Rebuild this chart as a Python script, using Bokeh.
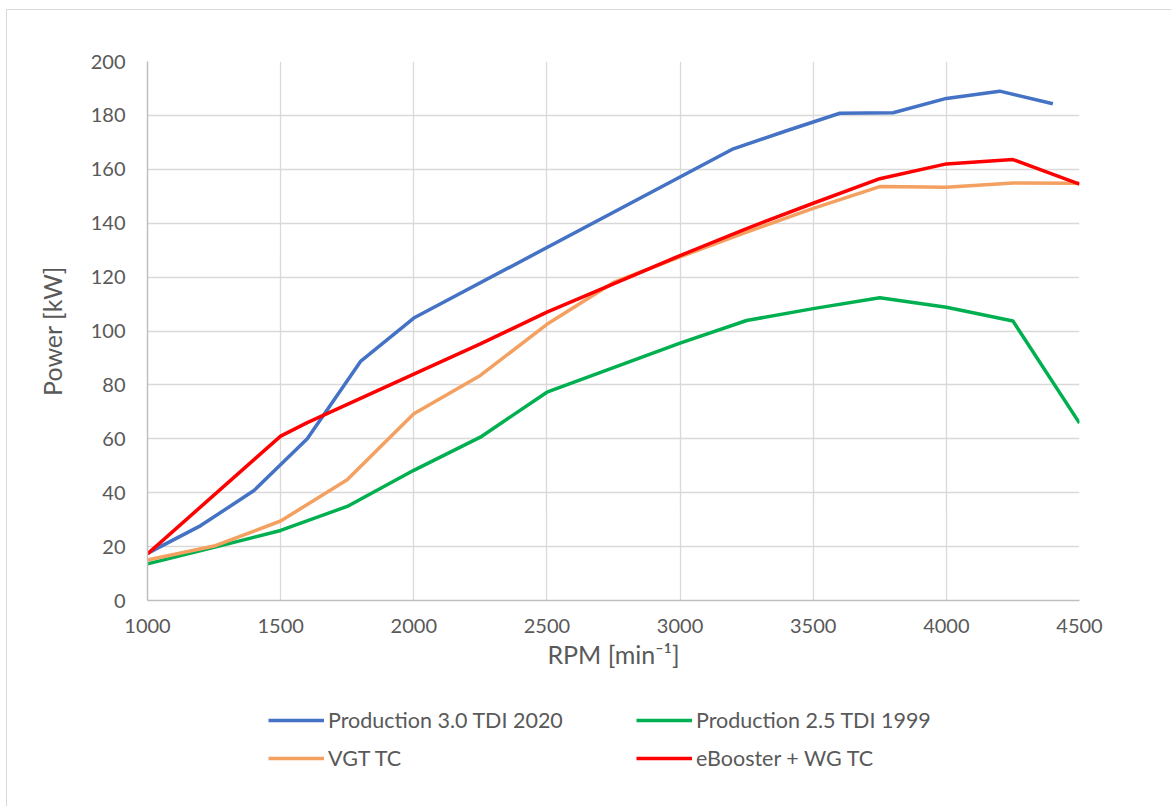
from bokeh.plotting import figure
from bokeh.models import Legend, LegendItem, FixedTicker, Range1d
from bokeh.layouts import column
from bokeh.embed import file_html
from bokeh.resources import INLINE

# Data
rpm_blue = [1000, 1200, 1400, 1600, 1800, 2000, 3200, 3400, 3600, 3800, 4000, 4200, 4400]
kw_blue = [17.5, 27.8, 40.8, 60.0, 88.7, 104.8, 167.6, 174.3, 180.8, 181.0, 186.3, 189.0, 184.3]

rpm_std = [1000, 1250, 1500, 1750, 2000, 2250, 2500, 2750, 3000, 3250, 3500, 3750, 4000, 4250, 4500]
kw_green = [13.6, 19.7, 26.0, 34.9, 48.3, 60.6, 77.3, 86.4, 95.5, 103.9, 108.3, 112.3, 108.8, 103.7, 65.8]
kw_orange = [15.0, 20.2, 29.5, 44.8, 69.3, 83.5, 102.5, 118.0, 127.5, 136.7, 145.5, 153.6, 153.3, 154.9, 154.8]

rpm_red = [1000, 1500, 1600, 2000, 2250, 2500, 2750, 3000, 3250, 3500, 3750, 4000, 4250, 4500]
kw_red = [17.3, 61.0, 66.0, 84.0, 95.2, 107.0, 117.5, 128.0, 138.0, 147.4, 156.5, 162.0, 163.6, 154.5]

series_names = ["Production 3.0 TDI 2020", "Production 2.5 TDI 1999", "VGT TC", "eBooster + WG TC"]
series_colors = ["#4472C4", "#00B050", "#F4A060", "#FF0000"]
x_ticks = [1000, 1500, 2000, 2500, 3000, 3500, 4000, 4500]
y_ticks = [0, 20, 40, 60, 80, 100, 120, 140, 160, 180, 200]

FONT = "Lato"
TXT = "#595959"
W = 3.5

p = figure(width=1164, height=690, output_backend="svg", toolbar_location=None,
           x_range=Range1d(1000, 4500), y_range=Range1d(0, 200),
           min_border_left=140, min_border_right=92, min_border_top=51, min_border_bottom=100)
p.background_fill_color = "white"
p.border_fill_color = "white"
p.outline_line_color = None

# Grid
p.xgrid.ticker = FixedTicker(ticks=x_ticks)
p.ygrid.ticker = FixedTicker(ticks=y_ticks)
for g in (p.xgrid, p.ygrid):
    g.grid_line_color = "#d9d9d9"
    g.grid_line_width = 1.3

# Axes
p.xaxis.ticker = FixedTicker(ticks=x_ticks)
p.yaxis.ticker = FixedTicker(ticks=y_ticks)
for ax in (p.xaxis, p.yaxis):
    ax.axis_line_color = "#bfbfbf"
    ax.axis_line_width = 1.5
    ax.major_tick_line_color = None
    ax.minor_tick_line_color = None
    ax.major_tick_out = 0
    ax.major_tick_in = 0
    ax.major_label_text_font = FONT
    ax.major_label_text_font_size = "20px"
    ax.major_label_text_color = TXT
    ax.axis_label_text_font = FONT
    ax.axis_label_text_font_size = "25px"
    ax.axis_label_text_color = TXT
    ax.axis_label_text_font_style = "normal"
p.xaxis.axis_label = "RPM [min\u207b\u00b9]"
p.yaxis.axis_label = "Power [kW]"
p.xaxis.major_label_standoff = 18
p.yaxis.major_label_standoff = 22
p.xaxis.axis_label_standoff = 3
p.yaxis.axis_label_standoff = 21

r_blue = p.line(rpm_blue, kw_blue, line_color=series_colors[0], line_width=W)
r_green = p.line(rpm_std, kw_green, line_color=series_colors[1], line_width=W)
r_orange = p.line(rpm_std, kw_orange, line_color=series_colors[2], line_width=W)
r_red = p.line(rpm_red, kw_red, line_color=series_colors[3], line_width=W)

# Legend strip below the chart
pl = figure(width=1164, height=106, output_backend="svg", toolbar_location=None,
            x_range=Range1d(0, 1), y_range=Range1d(0, 1),
            x_axis_location=None, y_axis_location=None,
            min_border_left=0, min_border_right=0, min_border_top=0, min_border_bottom=0)
pl.grid.visible = False
pl.outline_line_color = None
pl.border_fill_color = "white"
pl.background_fill_color = "white"
nan = float("nan")
dummies = [pl.line(x=[nan, nan], y=[nan, nan], line_color=c, line_width=W) for c in series_colors]

def make_legend(idx, x, y):
    lg = Legend(items=[LegendItem(label=series_names[i], renderers=[dummies[i]]) for i in idx],
                location=(x, y), orientation="vertical")
    lg.label_text_font = FONT
    lg.label_text_font_size = "21.5px"
    lg.label_text_color = TXT
    lg.glyph_width = 56
    lg.glyph_height = 26
    lg.label_height = 26
    lg.label_standoff = 4
    lg.spacing = 12
    lg.padding = 0
    lg.margin = 0
    lg.border_line_color = None
    lg.background_fill_alpha = 0
    return lg

pl.add_layout(make_legend([0, 2], 121, 35), "center")
pl.add_layout(make_legend([1, 3], 489, 35), "center")

layout = column(p, pl, spacing=0)
layout.margin = (9, 0, 0, 6)
layout.styles = {"border": "1px solid #d9d9d9"}

open("out.html", "w").write(file_html(layout, INLINE))
